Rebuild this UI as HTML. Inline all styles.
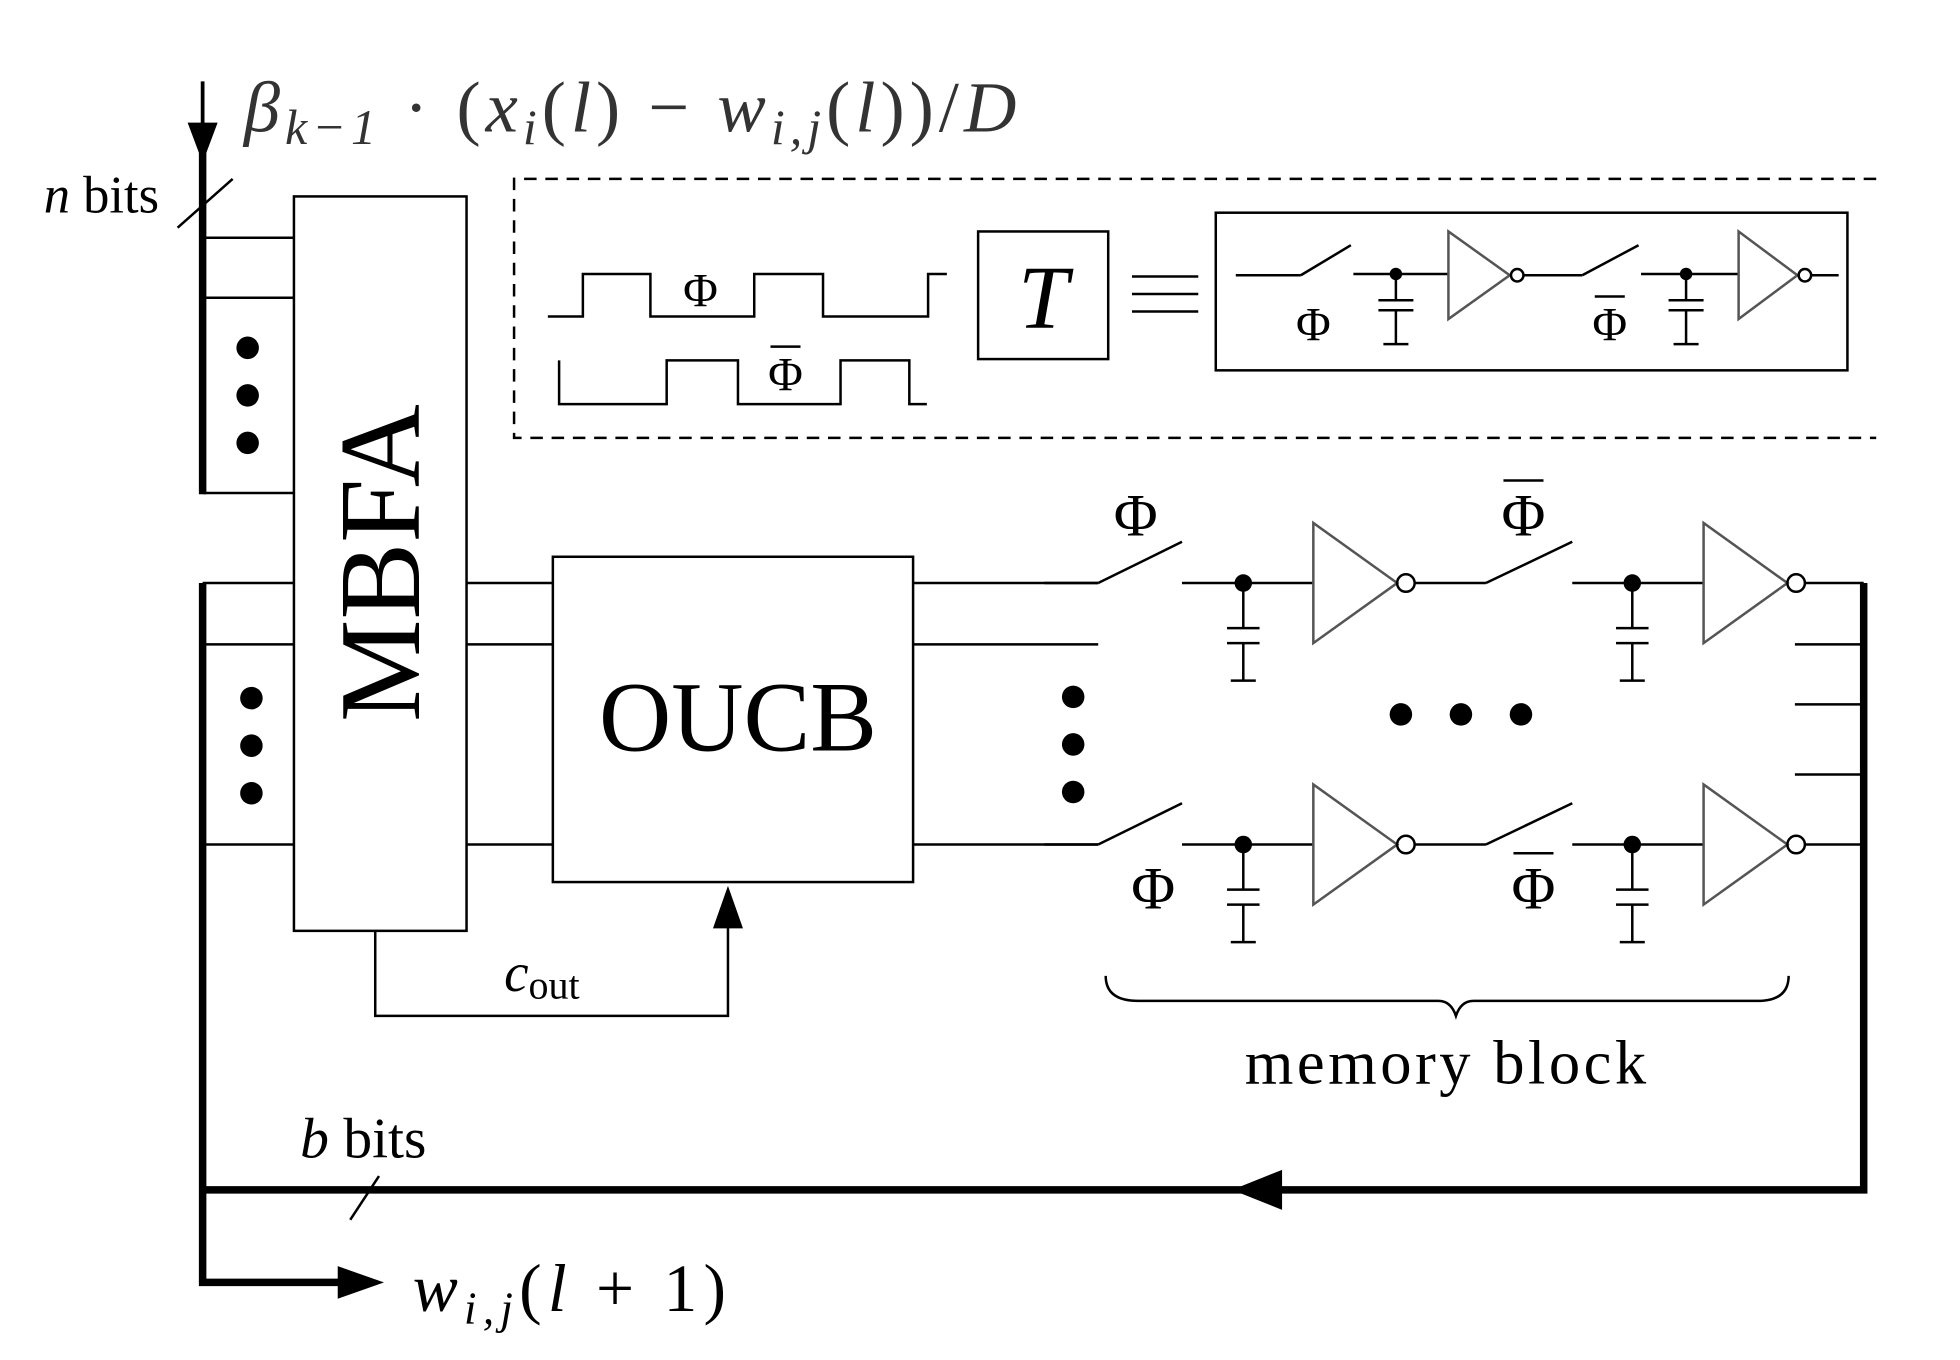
<!DOCTYPE html>
<html><head><meta charset="utf-8"><style>html,body{margin:0;padding:0;background:#fff}svg{display:block}</style></head>
<body>
<svg width="1960" height="1360" viewBox="0 0 1567 1087" preserveAspectRatio="none" xmlns="http://www.w3.org/2000/svg" font-family="Liberation Serif, serif">
<defs>
<g id="cap" stroke="#000" stroke-width="2" fill="none">
<line x1="0" y1="0" x2="0" y2="36"/><line x1="-13" y1="36" x2="13" y2="36"/><line x1="-13" y1="48" x2="13" y2="48"/><line x1="0" y1="48" x2="0" y2="78"/><line x1="-10" y1="78" x2="10" y2="78"/>
</g>
<g id="row">
<g stroke="#000" stroke-width="2" fill="none">
<line x1="835" y1="0" x2="878" y2="0"/><line x1="878" y1="0" x2="945" y2="-33"/>
<line x1="945" y1="0" x2="1050" y2="0"/>
<polygon points="1050,-48 1050,48 1117,0" stroke="#555"/>
<circle cx="1124" cy="0" r="7"/>
<line x1="1131" y1="0" x2="1188" y2="0"/><line x1="1188" y1="0" x2="1257" y2="-33"/>
<line x1="1257" y1="0" x2="1362" y2="0"/>
<polygon points="1362,-48 1362,48 1429,0" stroke="#555"/>
<circle cx="1436" cy="0" r="7"/>
<line x1="1443" y1="0" x2="1490" y2="0"/>
</g>
<circle cx="994" cy="0" r="7"/><circle cx="1305" cy="0" r="7"/>
<use href="#cap" x="994" y="0"/><use href="#cap" x="1305" y="0"/>
</g>
</defs>
<g stroke="#000" fill="none">
<line x1="162" y1="65" x2="162" y2="110" stroke-width="3"/>
<line x1="162" y1="110" x2="162" y2="395" stroke-width="6"/>
<line x1="142" y1="182" x2="186" y2="143" stroke-width="2"/>
<g stroke-width="2">
<line x1="162" y1="190" x2="235" y2="190"/><line x1="162" y1="238" x2="235" y2="238"/><line x1="162" y1="394" x2="235" y2="394"/>
<rect x="235" y="157" width="138" height="587"/>
<line x1="373" y1="466" x2="442" y2="466"/><line x1="373" y1="515" x2="442" y2="515"/><line x1="373" y1="675" x2="442" y2="675"/>
<line x1="162" y1="466" x2="235" y2="466"/><line x1="162" y1="515" x2="235" y2="515"/><line x1="162" y1="675" x2="235" y2="675"/>
<rect x="442" y="445" width="288" height="260"/>
<line x1="730" y1="466" x2="878" y2="466"/><line x1="730" y1="515" x2="878" y2="515"/><line x1="730" y1="675" x2="878" y2="675"/>
<polyline points="300,744 300,812 582,812 582,740"/>
<line x1="1435" y1="515" x2="1490" y2="515"/><line x1="1435" y1="563" x2="1490" y2="563"/><line x1="1435" y1="619" x2="1490" y2="619"/>
</g>
<path d="M1500,143 H411 V350 H1500" stroke-width="2" stroke-dasharray="10,7"/>
<g stroke-width="2">
<path d="M438,253 H466 V219 H520 V253 H603 V219 H658 V253 H742 V219 H757"/>
<path d="M447,288 V323 H533 V288 H590 V323 H672 V288 H727 V323 H741"/>
<rect x="782" y="185" width="104" height="102"/>
<line x1="905" y1="221" x2="958" y2="221"/><line x1="905" y1="235" x2="958" y2="235"/><line x1="905" y1="249" x2="958" y2="249"/>
<rect x="972" y="170" width="505" height="126"/>
<line x1="988" y1="220" x2="1040" y2="220"/><line x1="1040" y1="220" x2="1080" y2="196"/>
<line x1="1082" y1="219" x2="1158" y2="219"/>
<line x1="1116" y1="219" x2="1116" y2="240"/><line x1="1102" y1="240" x2="1130" y2="240"/><line x1="1102" y1="248" x2="1130" y2="248"/><line x1="1116" y1="248" x2="1116" y2="275"/><line x1="1106" y1="275" x2="1126" y2="275"/>
<polygon points="1158,185 1158,255 1207,220" stroke="#555"/><circle cx="1213" cy="220" r="5"/>
<line x1="1218" y1="220" x2="1265" y2="220"/><line x1="1265" y1="220" x2="1310" y2="196"/>
<line x1="1312" y1="219" x2="1390" y2="219"/>
<line x1="1348" y1="219" x2="1348" y2="240"/><line x1="1334" y1="240" x2="1362" y2="240"/><line x1="1334" y1="248" x2="1362" y2="248"/><line x1="1348" y1="248" x2="1348" y2="275"/><line x1="1338" y1="275" x2="1358" y2="275"/>
<polygon points="1390,185 1390,255 1437,220" stroke="#555"/><circle cx="1443" cy="220" r="5"/>
<line x1="1448" y1="220" x2="1470" y2="220"/>
</g>
<path d="M162,466 V1025 H275" stroke-width="6"/>
<path d="M1490,466 V951 H162" stroke-width="6"/>
<line x1="280" y1="975" x2="303" y2="940" stroke-width="2"/>
<path d="M884,780 Q884,800 910,800 H1150 Q1160,800 1164,812 Q1168,800 1178,800 H1405 Q1430,800 1430,780" stroke-width="2"/>
</g>
<g fill="#000">
<polygon points="150,98 174,98 162,130"/>
<polygon points="270,1012 270,1038 307,1025"/>
<polygon points="1025,935 1025,967 985,951"/>
<polygon points="570,742 594,742 582,708"/>
<circle cx="1116" cy="219" r="5"/><circle cx="1348" cy="219" r="5"/>
<circle cx="198" cy="278" r="9"/><circle cx="198" cy="316" r="9"/><circle cx="198" cy="354" r="9"/>
<circle cx="201" cy="558" r="9"/><circle cx="201" cy="596" r="9"/><circle cx="201" cy="634" r="9"/>
<circle cx="858" cy="557" r="9"/><circle cx="858" cy="595" r="9"/><circle cx="858" cy="633" r="9"/>
<circle cx="1120" cy="571" r="9"/><circle cx="1168" cy="571" r="9"/><circle cx="1216" cy="571" r="9"/>
</g>
<use href="#row" x="0" y="466"/>
<use href="#row" x="0" y="675"/>
<g fill="#000">
<text x="35" y="170" font-size="42"><tspan font-style="italic">n</tspan> bits</text>
<text x="195" y="105" font-size="58" font-style="italic" fill="#333" letter-spacing="4">β<tspan font-size="40" dy="10">k−1</tspan><tspan dy="-10" font-style="normal"> · (</tspan>x<tspan font-size="40" dy="10">i</tspan><tspan dy="-10" font-style="normal">(</tspan>l<tspan font-style="normal">) − </tspan>w<tspan font-size="40" dy="10">i,j</tspan><tspan dy="-10" font-style="normal">(</tspan>l<tspan font-style="normal">))/</tspan>D</text>
<text transform="translate(335,450) rotate(-90)" font-size="92" text-anchor="middle">MBFA</text>
<text x="590" y="600" font-size="80" text-anchor="middle">OUCB</text>
<text x="834" y="262" font-size="72" font-style="italic" text-anchor="middle">T</text>
<text x="403" y="792" font-size="44" font-style="italic">c<tspan font-style="normal" font-size="32" dy="6">out</tspan></text>
<text x="240" y="925" font-size="46"><tspan font-style="italic">b</tspan> bits</text>
<text x="330" y="1048" font-size="54" font-style="italic" letter-spacing="5">w<tspan font-size="36" dy="10">i,j</tspan><tspan dy="-10" font-style="normal">(</tspan>l<tspan font-style="normal"> + 1)</tspan></text>
<text x="1157" y="866" font-size="50" text-anchor="middle" letter-spacing="2.8">memory block</text>
<g font-size="38" text-anchor="middle">
<text x="560" y="245">Φ</text><text x="628" y="312">Φ</text>
<text x="1050" y="272">Φ</text><text x="1287" y="272">Φ</text>
</g>
<g font-size="48" text-anchor="middle">
<text x="908" y="428">Φ</text><text x="1218" y="428">Φ</text>
<text x="922" y="726">Φ</text><text x="1226" y="726">Φ</text>
</g>
</g>
<g stroke="#000" stroke-width="2">
<line x1="616" y1="277" x2="640" y2="277"/>
<line x1="1275" y1="237" x2="1299" y2="237"/>
<line x1="1202" y1="384" x2="1234" y2="384"/>
<line x1="1210" y1="682" x2="1242" y2="682"/>
</g>
</svg>
</body></html>
